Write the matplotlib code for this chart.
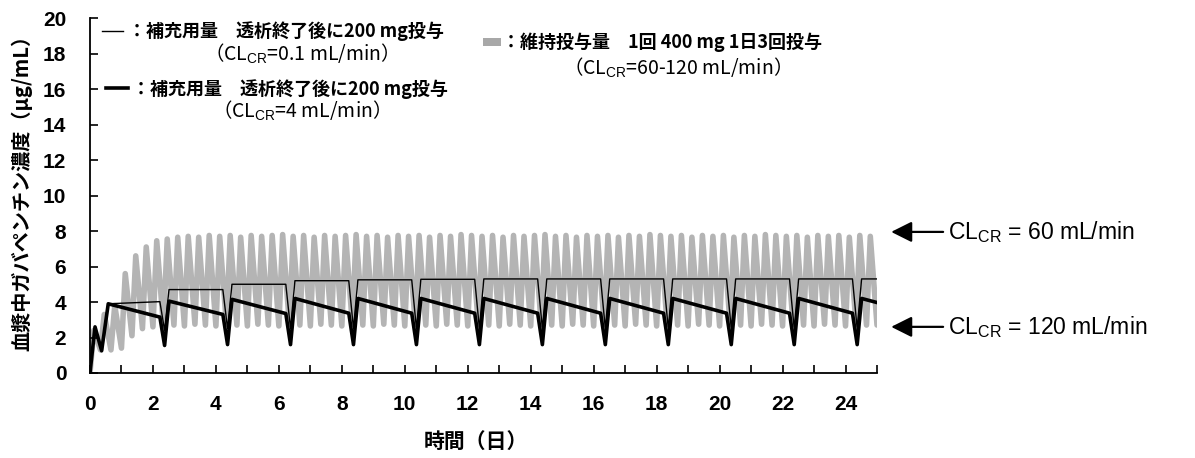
import numpy as np
import matplotlib.pyplot as plt
from matplotlib.patches import Rectangle

plt.rcParams['font.family'] = ['Noto Sans CJK JP', 'DejaVu Sans']
plt.rcParams['mathtext.fontset'] = 'custom'
plt.rcParams['mathtext.rm'] = 'Liberation Sans'

# maintenance dose 400 mg x3/day (CLcr 60-120): value just before each dose and the peak after it
dose_interval = 1 / 3
gray_trough = [0.0, 1.3, 1.3, 1.4, 2.1, 2.5, 2.6, 2.65, 2.7, 2.65, 2.75, 2.7, 2.65, 2.75, 2.7,
               2.65, 2.75, 2.7, 2.65, 2.75, 2.7, 2.65, 2.75, 2.7, 2.65, 2.75, 2.7, 2.65, 2.75, 2.7,
               2.65, 2.75, 2.7, 2.65, 2.75, 2.7, 2.65, 2.75, 2.7, 2.65, 2.75, 2.7, 2.65, 2.75, 2.7,
               2.65, 2.75, 2.7, 2.65, 2.75, 2.7, 2.65, 2.75, 2.7, 2.65, 2.75, 2.7, 2.65, 2.75, 2.7,
               2.65, 2.75, 2.7, 2.65, 2.75, 2.7, 2.65, 2.75, 2.7, 2.65, 2.75, 2.7, 2.65, 2.75, 2.7]
gray_peak = [2.4, 3.3, 3.8, 5.6, 6.6, 7.1, 7.45, 7.55, 7.65, 7.7, 7.65, 7.75, 7.7, 7.75, 7.65,
             7.75, 7.7, 7.75, 7.8, 7.7, 7.75, 7.65, 7.75, 7.7, 7.75, 7.8, 7.7, 7.75, 7.65, 7.75,
             7.7, 7.75, 7.65, 7.75, 7.7, 7.8, 7.75, 7.7, 7.75, 7.65, 7.75, 7.7, 7.75, 7.8, 7.7,
             7.75, 7.65, 7.75, 7.7, 7.75, 7.65, 7.75, 7.7, 7.8, 7.75, 7.7, 7.75, 7.65, 7.75, 7.7,
             7.75, 7.65, 7.75, 7.7, 7.8, 7.75, 7.7, 7.75, 7.65, 7.75, 7.7, 7.75, 7.65, 7.75, 7.7]
gray_end = 2.7

# supplementary dose after dialysis
start_t = [0, 0.16, 0.37, 0.58]
start_v = [0, 2.6, 1.25, 3.9]
dialysis_day = [2.37, 4.37, 6.37, 8.37, 10.37, 12.37, 14.37, 16.37, 18.37, 20.37, 22.37, 24.37]
# CLcr = 4 mL/min (thick)
thick_pre = [3.15, 3.3, 3.35, 3.37, 3.37, 3.37, 3.37, 3.37, 3.37, 3.37, 3.37, 3.37]
thick_min = [1.55, 1.6, 1.6, 1.6, 1.6, 1.6, 1.6, 1.6, 1.6, 1.6, 1.6, 1.6]
thick_post = [4.05, 4.15, 4.2, 4.2, 4.2, 4.2, 4.2, 4.2, 4.2, 4.2, 4.2, 4.2]
thick_end = 3.97
# CLcr = 0.1 mL/min (thin)
thin_level = [4.02, 4.7, 5.0, 5.2, 5.25, 5.28, 5.3, 5.3, 5.3, 5.3, 5.3, 5.3, 5.3]
thin_min = [2.4, 2.5, 2.5, 2.5, 2.5, 2.5, 2.5, 2.5, 2.5, 2.5, 2.5, 2.5]

xticks = [0, 2, 4, 6, 8, 10, 12, 14, 16, 18, 20, 22, 24]
yticks = [0, 2, 4, 6, 8, 10, 12, 14, 16, 18, 20]

# build the curves
tk = np.arange(len(gray_trough)) * dose_interval
gt = np.append(np.column_stack([tk, tk + 0.12]).ravel(), 25)
gv = np.append(np.column_stack([gray_trough, gray_peak]).ravel(), gray_end)

th_t = list(start_t)
th_v = list(start_v)
tn_t = list(start_t)
tn_v = list(start_v)
for i, d in enumerate(dialysis_day):
    th_t += [d - 0.15, d, d + 0.14]
    th_v += [thick_pre[i], thick_min[i], thick_post[i]]
    tn_t += [d - 0.15, d, d + 0.14]
    tn_v += [thin_level[i], thin_min[i], thin_level[i + 1]]
th_t.append(25)
th_v.append(thick_end)
tn_t.append(25)
tn_v.append(thin_level[-1])

fig = plt.figure(figsize=(11.95, 4.58), dpi=100)
ax = fig.add_axes([0.0753, 0.1856, 0.6586, 0.775])

ax.plot(gt, gv, color='#b4b4b4', lw=4.0, solid_joinstyle='round', solid_capstyle='round', zorder=1)
ax.plot(tn_t, tn_v, color='black', lw=1.0, zorder=2)
ax.plot(th_t, th_v, color='black', lw=2.6, zorder=3)

ax.set_xlim(0, 25)
ax.set_ylim(0, 20)
for s in ['top', 'right']:
    ax.spines[s].set_visible(False)
for s in ['left', 'bottom']:
    ax.spines[s].set_linewidth(1.3)

tickfont = dict(family='Liberation Sans', weight='bold', size=15)
ax.set_xticks(xticks)
ax.set_xticklabels([str(v) for v in xticks], **tickfont)
ax.set_xticks(np.arange(1, 26, 2), minor=True)
ax.set_yticks(yticks)
ax.set_yticklabels([str(v) for v in yticks], **tickfont)
ax.tick_params(which='both', direction='in', length=6, width=1.2)
ax.tick_params(axis='x', which='major', pad=16)
ax.tick_params(axis='y', pad=17)

ax.set_xlabel('時間（日）', fontsize=15, weight='bold')
ax.xaxis.set_label_coords(0.49, -0.163)
ax.set_ylabel('血漿中ガバペンチン濃度（μg/mL）', fontsize=14.5, weight='bold')
ax.yaxis.set_label_coords(-0.073, 0.52)


# legend placed by pixel positions of the reference
def fx(px):
    return (px - 90) / 787


def fy(py):
    return (373 - py) / 355


tr = ax.transAxes
ax.plot([fx(102), fx(123)], [fy(31), fy(31)], color='black', lw=1.0, transform=tr, clip_on=False)
ax.text(fx(128), fy(31), '：補充用量　透析終了後に200 mg投与', transform=tr, fontsize=13,
        weight='bold', va='center', ha='left')
ax.text(fx(296), fy(54), '（CL$_{\\mathrm{CR}}$=0.1 mL/min）', transform=tr, fontsize=14,
        va='center', ha='center')
ax.plot([fx(106), fx(128)], [fy(88), fy(88)], color='black', lw=2.6, transform=tr, clip_on=False)
ax.text(fx(132), fy(89), '：補充用量　透析終了後に200 mg投与', transform=tr, fontsize=13,
        weight='bold', va='center', ha='left')
ax.text(fx(296), fy(111), '（CL$_{\\mathrm{CR}}$=4 mL/min）', transform=tr, fontsize=14,
        va='center', ha='center')
ax.add_patch(Rectangle((fx(483), fy(46)), fx(501) - fx(483), fy(38) - fy(46), transform=tr,
                       facecolor='#a8a8a8', edgecolor='none', clip_on=False))
ax.text(fx(502), fy(42), '：維持投与量　1回 400 mg 1日3回投与', transform=tr, fontsize=13,
        weight='bold', va='center', ha='left')
ax.text(fx(672), fy(68), '（CL$_{\\mathrm{CR}}$=60-120 mL/min）', transform=tr, fontsize=14,
        va='center', ha='center')

# right-hand arrows
for lab, yv in [('60', 7.95), ('120', 2.6)]:
    ax.annotate('', xy=(25.45, yv), xytext=(27.1, yv), xycoords='data', annotation_clip=False,
                arrowprops=dict(arrowstyle='-|>,head_length=0.9,head_width=0.45', color='black',
                                lw=1.6, mutation_scale=14, shrinkA=0, shrinkB=0))
    ax.text(27.25, yv, 'CL$_{\\mathrm{CR}}$ = ' + lab + ' mL/min', family='Liberation Sans',
            fontsize=16.5, va='center', ha='left')

fig.savefig('out.png', dpi=100)
